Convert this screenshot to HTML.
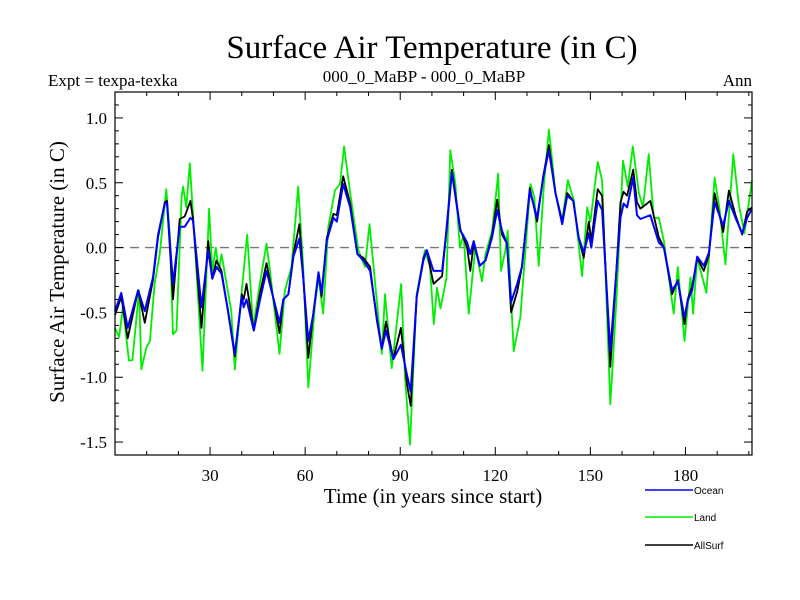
<!DOCTYPE html>
<html><head><meta charset="utf-8"><style>
body{margin:0;background:#fff}
svg{display:block}
.serif{font-family:"Liberation Serif",serif}
.sans{font-family:"Liberation Sans",sans-serif}
</style></head><body>
<svg id="chart" width="800" height="600" viewBox="0 0 800 600" xmlns="http://www.w3.org/2000/svg">
<rect width="800" height="600" fill="#fff"/>
<text class="serif" x="432" y="58" font-size="33" text-anchor="middle">Surface Air Temperature (in C)</text>
<text class="serif" x="48" y="86" font-size="17">Expt = texpa-texka</text>
<text class="serif" x="424" y="82" font-size="17" text-anchor="middle">000_0_MaBP - 000_0_MaBP</text>
<text class="serif" x="752" y="86" font-size="17" text-anchor="end">Ann</text>
<g id="grid"></g>
<g id="series"></g>
<g id="axes"></g>
<text class="serif" x="433" y="503" font-size="21" text-anchor="middle">Time (in years since start)</text>
<text class="serif" transform="translate(64,272) rotate(-90)" font-size="21" text-anchor="middle">Surface Air Temperature (in C)</text>
<g>
<line x1="645" y1="490" x2="693" y2="490" stroke="#0000ff" stroke-width="1.5"/>
<text class="sans" x="694" y="494" font-size="10">Ocean</text>
<line x1="645" y1="517" x2="693" y2="517" stroke="#00ee00" stroke-width="1.5"/>
<text class="sans" x="694" y="521" font-size="10">Land</text>
<line x1="645" y1="545" x2="693" y2="545" stroke="#000" stroke-width="1.5"/>
<text class="sans" x="694" y="549" font-size="10">AllSurf</text>
</g>
</svg>
<script>
const oceanYears=[0,2,4,7.3,9.4,12,13.6,15.7,16.4,18.3,20.4,22,23.8,24.6,27.3,29.4,30.7,32,33.6,35.7,37.8,40,40.6,41.5,43.8,45.7,47.8,50.5,51.9,53.1,54.7,56.3,58.2,59.4,61,62.6,64.2,65.2,66.8,68.9,70,72,74.2,76.5,78.4,80.5,82.6,84.2,85.5,87.8,90.2,92.1,93.3,95.2,97.3,98.4,100.5,103.2,104.6,106.3,109,111.1,112.1,113.2,115.1,116.9,119,120.6,122.1,123.7,125,126.9,128.4,130.9,133.2,135.1,136.9,139,141.1,142.7,144.6,146.3,147.9,149.5,150.3,152.3,153.7,156.3,157.9,159.5,160.5,161.6,163.5,164.7,165.8,168.9,171.6,173.2,175.8,177.6,179.7,180.7,182.1,183.7,185.8,187.4,189.2,191.9,193.7,195.8,197.9,199.5,201];
const oceanVals=[-0.49,-0.35,-0.62,-0.33,-0.49,-0.23,0.1,0.34,0.34,-0.28,0.16,0.16,0.23,0.21,-0.46,-0.02,-0.24,-0.15,-0.2,-0.49,-0.82,-0.38,-0.46,-0.40,-0.64,-0.41,-0.18,-0.44,-0.58,-0.40,-0.36,-0.07,0.07,-0.23,-0.72,-0.51,-0.19,-0.35,0.05,0.23,0.2,0.49,0.31,-0.05,-0.10,-0.18,-0.54,-0.78,-0.64,-0.86,-0.75,-0.98,-1.11,-0.38,-0.10,-0.02,-0.18,-0.18,0.13,0.58,0.13,0.04,-0.05,0.05,-0.14,-0.10,0.08,0.29,0.13,0.03,-0.42,-0.28,-0.15,0.44,0.23,0.54,0.75,0.42,0.18,0.40,0.36,0.08,-0.04,0.11,0,0.36,0.29,-0.80,-0.28,0.23,0.34,0.31,0.54,0.25,0.22,0.25,0.04,0,-0.33,-0.26,-0.54,-0.41,-0.33,-0.07,-0.14,-0.04,0.35,0.17,0.36,0.23,0.11,0.23,0.30];
const allYears=oceanYears;
const allVals=[-0.52,-0.38,-0.70,-0.33,-0.58,-0.25,0.08,0.35,0.36,-0.40,0.22,0.24,0.36,0.22,-0.62,0.05,-0.24,-0.10,-0.18,-0.5,-0.84,-0.36,-0.40,-0.28,-0.64,-0.36,-0.12,-0.46,-0.66,-0.40,-0.36,-0.05,0.18,-0.22,-0.85,-0.50,-0.20,-0.38,0.07,0.26,0.25,0.55,0.34,-0.05,-0.08,-0.15,-0.56,-0.78,-0.57,-0.86,-0.62,-1.05,-1.22,-0.38,-0.08,-0.02,-0.28,-0.22,0.15,0.60,0.14,0.00,-0.18,0.03,-0.14,-0.10,0.10,0.37,0.10,0.03,-0.50,-0.34,-0.15,0.46,0.20,0.55,0.79,0.42,0.20,0.42,0.36,0.08,-0.08,0.20,0.05,0.45,0.40,-0.92,-0.30,0.35,0.43,0.40,0.60,0.35,0.30,0.36,0.08,0.00,-0.36,-0.25,-0.59,-0.40,-0.30,-0.08,-0.18,-0.06,0.42,0.12,0.44,0.25,0.10,0.28,0.31];
const landYears=[0,1.3,2.5,4.4,5.5,7.6,8.3,9.9,11,12.5,14.1,16.2,17.3,18.3,19.4,21,21.5,22.5,23.6,24.6,27.6,29.7,30.7,31.8,32.8,33.6,36.7,37.8,40,41.7,43.6,45.7,47.8,48.9,51.9,53.6,55.7,57.8,59.4,61,63.1,64.2,65.7,67.3,69.4,71,72.3,74.2,76.8,78.9,80.3,82.1,84.2,85.2,87.3,90.3,91.5,93.1,95.2,97.8,99.4,100.6,101.6,102.7,104.6,105.8,107.4,108.8,110,111.6,113.7,115.8,116.9,119,120.9,121.8,123.2,123.9,125.8,127.9,131.1,132.3,133.7,135.3,136.9,139,141.1,142.9,144.8,147.4,149,150,152.3,153.7,156.3,158.2,160.3,161.8,163.4,165.3,166.6,168.4,170,171.6,173.2,176.3,177.6,179.7,181.6,182.4,183.7,186.6,189.2,190.8,192.6,195.1,196.8,198.6,201];
const landVals=[-0.62,-0.69,-0.46,-0.87,-0.87,-0.33,-0.94,-0.77,-0.72,-0.28,-0.05,0.45,0.1,-0.67,-0.64,0.39,0.47,0.31,0.65,0.26,-0.95,0.3,-0.18,0,-0.18,-0.05,-0.49,-0.94,-0.33,0.1,-0.62,-0.28,0.03,-0.18,-0.82,-0.33,-0.15,0.47,-0.15,-1.08,-0.44,-0.23,-0.51,0.16,0.44,0.49,0.78,0.42,-0.02,-0.15,0.18,-0.28,-0.82,-0.36,-0.93,-0.28,-1.0,-1.52,-0.36,-0.02,-0.15,-0.59,-0.31,-0.47,-0.23,0.75,0.49,0,0.1,-0.51,0,-0.26,-0.05,0.13,0.57,-0.18,-0.02,0.13,-0.8,-0.54,0.49,0.39,-0.14,0.47,0.91,0.42,0.21,0.52,0.36,-0.22,0.31,0.2,0.66,0.52,-1.21,-0.41,0.67,0.47,0.78,0.42,0.31,0.72,0.23,0.23,0.05,-0.51,-0.15,-0.72,-0.23,-0.51,-0.08,-0.35,0.54,0.29,-0.13,0.72,0.34,0.11,0.52];
const yTickVals=[-1.5,-1.0,-0.5,0.0,0.5,1.0];
const yTickLabels=["-1.5","-1.0","-0.5","0.0","0.5","1.0"];
const xTickVals=[30,60,90,120,150,180];
const xTickLabels=["30","60","90","120","150","180"];

const L=115,R=752,T=92,B=455,XMIN=0,XMAX=201,YMIN=-1.6,YMAX=1.2;
const NS='http://www.w3.org/2000/svg';
function sx(v){return L+(v-XMIN)/(XMAX-XMIN)*(R-L);}
function sy(v){return B-(v-YMIN)/(YMAX-YMIN)*(B-T);}
function mk(tag,attrs,parent){const e=document.createElementNS(NS,tag);for(const k in attrs)e.setAttribute(k,attrs[k]);parent.appendChild(e);return e;}
const grid=document.getElementById('grid'),series=document.getElementById('series'),axes=document.getElementById('axes');

const zl=mk('line',{x1:L,x2:R,y1:sy(0),y2:sy(0),stroke:'#777','stroke-width':1.3,'stroke-dasharray':'9,6'},grid);



function drawSeries(xs,vs,color,name,w){
  const d=xs.map((x,i)=>(i?'L':'M')+sx(x).toFixed(1)+','+sy(vs[i]).toFixed(1)).join('');
  const p=mk('path',{d:d,fill:'none',stroke:color,'stroke-width':w,'stroke-linejoin':'round'},series);
  
  
}
drawSeries(landYears,landVals,'#00ee00','land-series',1.8);
drawSeries(allYears,allVals,'#000000','allsurf-series',1.8);
drawSeries(oceanYears,oceanVals,'#0000ff','ocean-series',2);

const frame=mk('rect',{x:L,y:T,width:R-L,height:B-T,fill:'none',stroke:'#000','stroke-width':1.2},axes);



for(let k=-16;k<=12;k++){
  const v=k/10,y=sy(v),major=(k%5===0);const len=major?8:4;
  mk('line',{x1:L,x2:L+len,y1:y,y2:y,stroke:'#000','stroke-width':1},axes);
  mk('line',{x1:R-len,x2:R,y1:y,y2:y,stroke:'#000','stroke-width':1},axes);
}
yTickVals.forEach((v,i)=>{
  const t=mk('text',{x:L-8,y:sy(v)+6,'font-size':17,'text-anchor':'end','class':'serif'},axes);
  t.textContent=yTickLabels[i];
  
  
});
for(let v=10;v<=200;v+=10){
  const x=sx(v),major=(v%30===0),len=major?8:4;
  mk('line',{x1:x,x2:x,y1:B,y2:B-len,stroke:'#000','stroke-width':1},axes);
  mk('line',{x1:x,x2:x,y1:T,y2:T+len,stroke:'#000','stroke-width':1},axes);
}
xTickVals.forEach((v,i)=>{
  const t=mk('text',{x:sx(v),y:B+26,'font-size':17,'text-anchor':'middle','class':'serif'},axes);
  t.textContent=xTickLabels[i];
  
  
});
</script>
</body></html>
